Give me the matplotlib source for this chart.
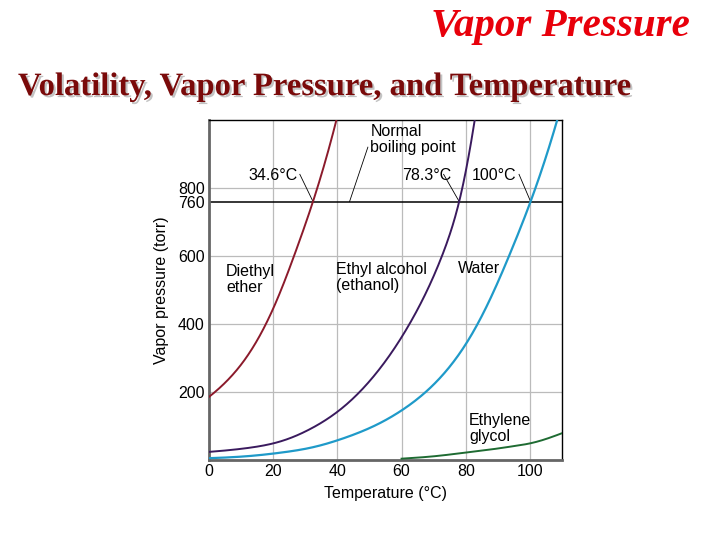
import matplotlib
matplotlib.use("Agg")
import matplotlib.pyplot as plt
import matplotlib.patheffects as pe
import numpy as np

plt.rcParams['font.family'] = ['Liberation Sans', 'DejaVu Sans']

# values (temperature in C, pressure in torr)
ether_t = [0, 10, 20, 26.5, 32.4, 39.7]
ether_p = [185, 280, 445, 600, 760, 1000]

ethanol_t = [0, 10, 20, 30, 40, 50, 62.5, 72.6, 77.95, 82.8]
ethanol_p = [23, 32, 48, 83, 141, 231, 400, 600, 760, 1000]

water_t = [0, 10, 20, 30, 40, 50, 60, 67.6, 80, 93.5, 100.2, 108.5]
water_p = [4.5, 9, 18, 32, 57, 93, 145, 200, 340, 600, 760, 1000]

glycol_t = [60, 70, 80, 90, 95, 100, 105, 110]
glycol_p = [3, 10, 21, 33, 40, 48, 61, 78]

boiling_labels = ["34.6\u00b0C", "78.3\u00b0C", "100\u00b0C"]
boiling_drawn = [32.4, 77.95, 100.2]

x_ticks = [0, 20, 40, 60, 80, 100]
y_ticks = [200, 400, 600, 760, 800]


def smooth(t, p, log=True, n=300):
    """Natural cubic spline through the read points (in log space by default)."""
    x = np.asarray(t, float)
    y = np.log(np.asarray(p, float)) if log else np.asarray(p, float)
    k = len(x)
    h = np.diff(x)
    A = np.zeros((k, k))
    b = np.zeros(k)
    A[0, 0] = A[-1, -1] = 1
    for i in range(1, k - 1):
        A[i, i - 1] = h[i - 1]
        A[i, i] = 2 * (h[i - 1] + h[i])
        A[i, i + 1] = h[i]
        b[i] = 3 * ((y[i + 1] - y[i]) / h[i] - (y[i] - y[i - 1]) / h[i - 1])
    c = np.linalg.solve(A, b)
    bb = (y[1:] - y[:-1]) / h - h * (2 * c[:-1] + c[1:]) / 3
    d = (c[1:] - c[:-1]) / (3 * h)
    xx = np.linspace(x[0], x[-1], n)
    idx = np.clip(np.searchsorted(x, xx) - 1, 0, k - 2)
    dx = xx - x[idx]
    yy = y[idx] + bb[idx] * dx + c[idx] * dx**2 + d[idx] * dx**3
    return xx, (np.exp(yy) if log else yy)


fig = plt.figure(figsize=(7.2, 5.4), dpi=100)

fig.text(0.958, 0.933, "Vapor Pressure", family="Liberation Serif", style="italic", weight="bold",
         fontsize=29.5, color="#e8000b", ha="right", va="baseline")
fig.text(0.025, 0.824, "Volatility, Vapor Pressure, and Temperature", family="Liberation Serif",
         weight="bold", fontsize=23.5, color="#7a0a0a", ha="left", va="baseline",
         path_effects=[pe.withSimplePatchShadow(offset=(1.5, -1.5), shadow_rgbFace="#aaaaaa", alpha=0.7)])

ax = fig.add_axes([0.2903, 0.1487, 0.4903, 0.6291])
ax.set_xlim(0, 110)
ax.set_ylim(0, 1000)

for gx in [20, 40, 60, 80, 100]:
    ax.axvline(gx, color="#bbbbbb", lw=0.9, zorder=0)
for gy in [200, 400, 600, 800]:
    ax.axhline(gy, color="#bbbbbb", lw=0.9, zorder=0)
ax.axhline(760, color="black", lw=1.1, zorder=1)

ax.plot(*smooth(ether_t, ether_p), color="#8b1a2b", lw=1.4, zorder=3)
ax.plot(*smooth(ethanol_t, ethanol_p), color="#3a1a5e", lw=1.4, zorder=3)
ax.plot(*smooth(water_t, water_p), color="#1f9ac9", lw=1.6, zorder=3)
ax.plot(*smooth(glycol_t, glycol_p, log=False), color="#1e6b32", lw=1.4, zorder=3)

fs = 11.5
ax.text(5.3, 531, "Diethyl\nether", fontsize=fs, va="center", ha="left", linespacing=1.05)
ax.text(39.7, 537, "Ethyl alcohol\n(ethanol)", fontsize=fs, va="center", ha="left", linespacing=1.05)
ax.text(77.6, 564, "Water", fontsize=fs, va="center", ha="left")
ax.text(81, 92, "Ethylene\nglycol", fontsize=fs, va="center", ha="left", linespacing=1.05)
ax.text(50.3, 943, "Normal\nboiling point", fontsize=fs, va="center", ha="left", linespacing=1.05)
ax.plot([49.5, 43.8], [920, 760], color="black", lw=0.6)

label_x = [27.6, 75.5, 95.7]
leader_top = [28.3, 73.1, 96.6]
for bp, lab, lx, tx in zip(boiling_drawn, boiling_labels, label_x, leader_top):
    ax.text(lx, 837, lab, fontsize=fs, va="center", ha="right")
    ax.plot([tx, bp], [840, 760], color="black", lw=0.6)

ax.set_xticks(x_ticks)
ax.set_yticks(y_ticks)
ax.tick_params(length=0, labelsize=fs, pad=3)
ax.set_xlabel("Temperature (\u00b0C)", fontsize=fs, labelpad=5)
ax.set_ylabel("Vapor pressure (torr)", fontsize=fs)
ax.yaxis.set_label_coords(-0.112, 0.5)

for side in ["left", "bottom"]:
    ax.spines[side].set_color("#666666")
    ax.spines[side].set_linewidth(2)
for side in ["top", "right"]:
    ax.spines[side].set_color("black")
    ax.spines[side].set_linewidth(1)

fig.savefig("out.png", dpi=100)
